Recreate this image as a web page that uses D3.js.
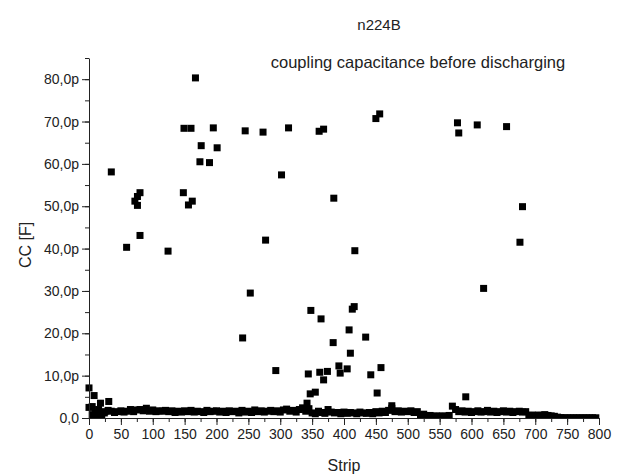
<!DOCTYPE html>
<html>
<head>
<meta charset="utf-8">
<style>
  body { margin: 0; background: #fff; }
  svg { display: block; font-family: "Liberation Sans", Arial, sans-serif; }
</style>
</head>
<body>
<svg width="617" height="476"></svg>
<script src="https://d3js.org/d3.v7.min.js"></script>
<script>
  // baseline band: one value every 5 strips, starting at strip 0
  var bandStep = 5;
  var bandValues = [
    2.5, 0.8, 1.2, 2.0, 0.6, 1.5, 1.8, 1.6, 1.3, 1.5,
    1.7, 1.4, 1.6, 2.0, 1.5, 1.9, 2.0, 1.7, 2.3, 1.6,
    1.9, 1.5, 1.7, 1.6, 1.8, 1.5, 1.7, 1.3, 1.6, 1.4,
    1.7, 1.5, 1.8, 1.4, 1.6, 1.5, 1.3, 1.8, 1.5, 1.6,
    1.7, 1.4, 1.6, 1.3, 1.7, 1.5, 1.6, 1.2, 1.8, 1.4,
    1.6, 1.3, 1.9, 1.5, 1.7, 1.4, 1.6, 1.8, 1.5, 1.7,
    1.4, 1.9, 2.1, 1.6, 1.8, 1.4, 2.0, 2.4, 1.6, 2.2,
    1.2, 1.0, 1.6, 1.3, 1.1, 2.0, 1.4, 1.2, 1.3, 1.0,
    1.4, 1.1, 1.3, 1.2, 1.0, 1.4, 1.2, 1.1, 1.3, 1.0,
    1.5, 1.2, 1.6, 1.3, 1.8, 2.3, 1.5, 1.7, 1.4, 1.6,
    1.5, 1.7, 1.3, 1.5, 0.6, 0.9, 0.5, 0.6, 0.4, 0.5,
    0.4, 0.5, 0.4, 0.6, 2.8, 2.0, 1.5, 1.7, 1.4, 1.6,
    1.3, 1.5, 1.7, 1.4, 1.5, 1.8, 1.4, 1.6, 1.3, 1.5,
    1.7, 1.4, 1.6, 1.3, 1.5, 1.6, 1.4, 1.5, 0.6, 0.7,
    0.5, 0.7, 0.6, 0.8, 0.6, 0.5, 0.4, 0.2, 0.1, 0.05,
    0.05, 0.05, 0.05, 0.05, 0.05, 0.05, 0.05, 0.05, 0.05, 0.05
  ];

  // scattered strips, value in pF
  var outStrips = [
    0, 8, 5, 18, 31, 24, 12,
    35, 80, 76, 72, 76, 59, 80, 124, 148, 156, 162,
    149, 160, 167, 195, 176, 201, 174, 189,
    245, 273, 313, 302, 277, 253, 241, 293,
    361, 368, 450, 456, 384, 417, 348, 364, 413, 416,
    408, 434, 383, 410, 344, 362, 374, 368, 392, 394,
    405, 442, 458, 347, 355, 452, 342, 475,
    578, 580, 609, 655, 619, 591, 680, 676
  ];
  var outValues = [
    7.1, 5.3, 2.7, 3.5, 3.9, 1.2, 0.3,
    58.1, 53.2, 52.3, 51.2, 50.2, 40.3, 43.1, 39.4, 53.2, 50.3, 51.2,
    68.4, 68.4, 80.3, 68.5, 64.3, 63.8, 60.5, 60.3,
    67.8, 67.5, 68.5, 57.4, 42.0, 29.5, 18.9, 11.2,
    67.7, 68.2, 70.7, 71.8, 51.9, 39.5, 25.4, 23.4, 25.7, 26.3,
    20.8, 19.1, 17.8, 15.3, 10.4, 10.8, 11.0, 9.0, 12.3, 10.6,
    11.6, 10.2, 11.9, 5.7, 6.1, 5.9, 3.5, 2.9,
    69.7, 67.3, 69.2, 68.8, 30.6, 5.0, 49.9, 41.5
  ];

  var xMajor = d3.range(0, 801, 50),
      xMinor = d3.range(0, 801, 25),
      yMajor = d3.range(0, 81, 10),
      yMinor = d3.range(0, 86, 5);

  var svg = d3.select("svg"),
      margin = {top: 58, right: 18, bottom: 58, left: 89},
      width = +svg.attr("width") - margin.left - margin.right,
      height = 418 - margin.top,
      g = svg.append("g").attr("transform", "translate(" + margin.left + "," + margin.top + ")");

  var x = d3.scaleLinear().domain([0, 800]).range([0, width]);
  var y = d3.scaleLinear().domain([0, 85]).range([height, 0]);

  var data = [];
  bandValues.forEach(function(v, i) { data.push({strip: i * bandStep, cc: v}); });
  outStrips.forEach(function(s, i) { data.push({strip: s, cc: outValues[i]}); });

  svg.append("defs").append("clipPath").attr("id", "clip")
    .append("rect")
      .attr("x", -margin.left).attr("y", -margin.top)
      .attr("width", 617).attr("height", height + margin.top);

  var sz = 7;
  g.append("g").attr("clip-path", "url(#clip)")
    .selectAll("rect")
    .data(data)
    .enter().append("rect")
      .attr("x", function(d) { return x(d.strip) - sz / 2; })
      .attr("y", function(d) { return y(d.cc) - sz / 2; })
      .attr("width", sz)
      .attr("height", sz)
      .attr("fill", "#000");

  function fmtY(d) {
    return d === 0 ? "0,0" : d3.format(".1f")(d).replace(".", ",") + "p";
  }

  // minor ticks
  g.append("g")
      .attr("transform", "translate(0," + height + ")")
      .call(d3.axisBottom(x).tickValues(xMinor).tickSize(4).tickSizeOuter(0).tickFormat(""))
      .call(function(a) { a.select(".domain").remove(); });
  g.append("g")
      .call(d3.axisLeft(y).tickValues(yMinor).tickSize(4).tickSizeOuter(0).tickFormat(""))
      .call(function(a) { a.select(".domain").remove(); });

  var xAxis = g.append("g")
      .attr("transform", "translate(0," + height + ")")
      .call(d3.axisBottom(x).tickValues(xMajor).tickSize(7).tickPadding(4).tickSizeOuter(0));
  var yAxis = g.append("g")
      .call(d3.axisLeft(y).tickValues(yMajor).tickSize(7).tickPadding(3).tickSizeOuter(0).tickFormat(fmtY));

  g.selectAll(".tick line, .domain").attr("stroke", "#222");
  xAxis.selectAll("text").attr("font-size", 14).attr("fill", "#222");
  yAxis.selectAll("text").attr("font-size", 14).attr("fill", "#222");
  g.selectAll("g").attr("font-family", null);

  svg.append("text")
      .attr("x", 31).attr("y", 245)
      .attr("transform", "rotate(-90,31,245)")
      .attr("text-anchor", "middle")
      .attr("font-size", 16).attr("fill", "#222")
      .text("CC [F]");

  svg.append("text")
      .attr("x", margin.left + width / 2).attr("y", 471)
      .attr("text-anchor", "middle")
      .attr("font-size", 16).attr("fill", "#222")
      .text("Strip");

  svg.append("text")
      .attr("x", 379).attr("y", 30)
      .attr("text-anchor", "middle")
      .attr("font-size", 15).attr("fill", "#222")
      .text("n224B");

  svg.append("text")
      .attr("x", 418).attr("y", 68)
      .attr("text-anchor", "middle")
      .attr("font-size", 16.5).attr("fill", "#222")
      .text("coupling capacitance before discharging");
</script>
</body>
</html>
